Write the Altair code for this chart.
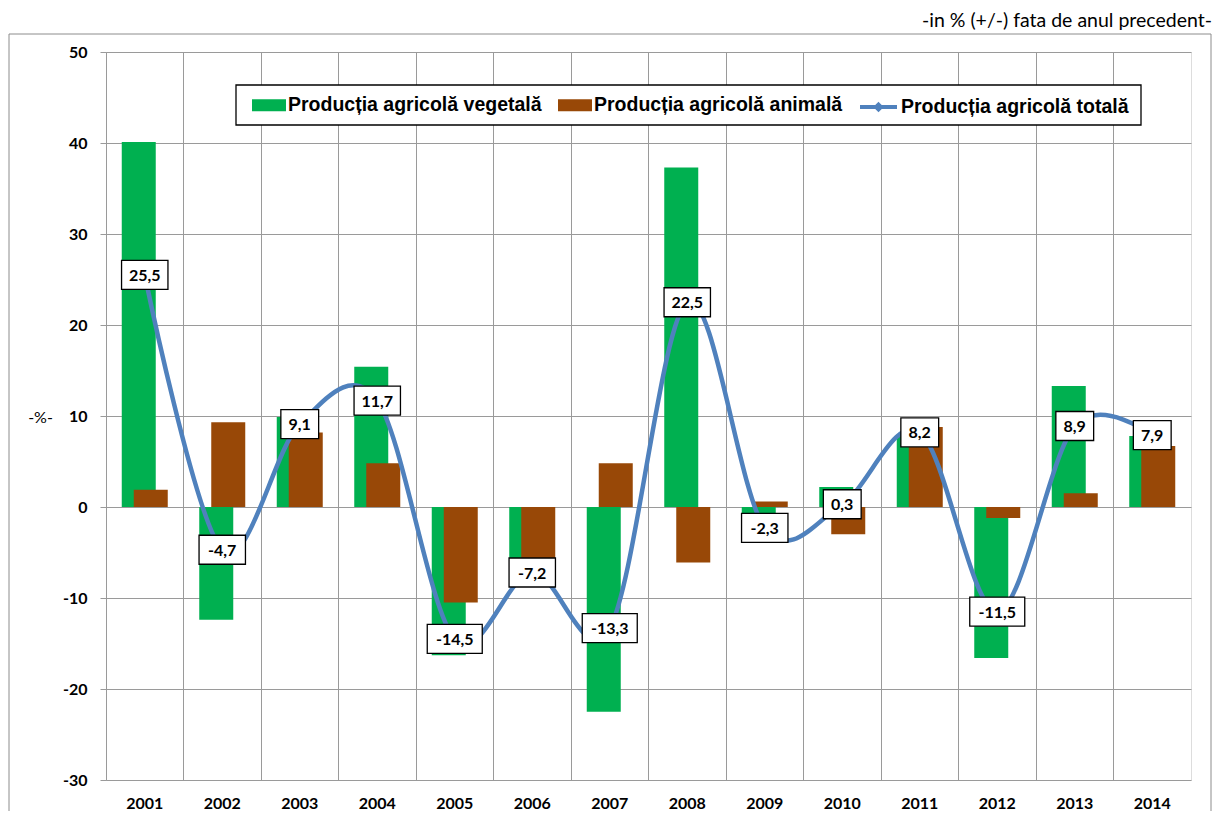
import altair as alt
import pandas as pd

years = ["2001", "2002", "2003", "2004", "2005", "2006", "2007",
         "2008", "2009", "2010", "2011", "2012", "2013", "2014"]
vegetala = [40.1, -12.4, 9.9, 15.4, -16.3, -6.0, -22.5,
            37.3, -3.5, 2.2, 8.0, -16.6, 13.3, 7.8]
animala = [1.9, 9.3, 8.2, 4.8, -10.5, -8.0, 4.8,
           -6.1, 0.6, -3.0, 8.8, -1.2, 1.5, 6.7]
totala = [25.5, -4.7, 9.1, 11.7, -14.5, -7.2, -13.3,
          22.5, -2.3, 0.3, 8.2, -11.5, 8.9, 7.9]

S_VEG = "Producția agricolă vegetală"
S_ANI = "Producția agricolă animală"
S_TOT = "Producția agricolă totală"
subtitle = "-in % (+/-) fata de anul precedent-"
y_ticks = [-30, -20, -10, 0, 10, 20, 30, 40, 50]

GREEN = "#00B050"
BROWN = "#984807"
BLUE = "#4F81BD"
GRID = "#9A9A9A"
TICKFONT = "Lato"

veg_df = pd.DataFrame({"an": years, "val": vegetala, "serie": S_VEG})
ani_df = pd.DataFrame({"an": years, "val": animala, "serie": S_ANI})
labels = [f"{v:.1f}".replace(".", ",") for v in totala]
box_w = [12 + 8.6 * len(s) for s in labels]
box_h = 29
tot_df = pd.DataFrame({
    "an": years, "val": totala, "serie": S_TOT, "label": labels,
    "shape": [f"M-1,-{box_h / w:.4f}H1V{box_h / w:.4f}H-1Z" for w in box_w],
    "size": [w * w for w in box_w],
})
title_df = pd.DataFrame({"t": [subtitle]})

x_enc = alt.X("an:N", sort=years,
              scale=alt.Scale(paddingInner=0, paddingOuter=0),
              axis=alt.Axis(title=None, labelAngle=0, ticks=False, domain=False,
                            grid=True, gridColor=GRID, bandPosition=0,
                            labelFont=TICKFONT, labelFontWeight="bold",
                            labelFontSize=16, labelColor="black", labelPadding=15))
y_scale = alt.Scale(domain=[-30, 50], nice=False, zero=False)
y_enc = alt.Y("val:Q", scale=y_scale,
              axis=alt.Axis(values=y_ticks, title="-%-", titleAngle=0,
                            labelExpr="'' + datum.value",
                            titleAlign="center", titleBaseline="middle",
                            titleX=-66, titleY=365, titleFont=TICKFONT,
                            titleFontSize=16, titleFontWeight="normal",
                            titleColor="black",
                            grid=True, gridColor=GRID, domainColor=GRID,
                            tickColor=GRID, tickSize=6, labelPadding=13,
                            labelFont=TICKFONT, labelFontWeight="bold",
                            labelFontSize=16, labelColor="black"))

LEGFONT = "Liberation Sans"
LEGSIZE = 19.5
fill_scale = alt.Scale(domain=[S_VEG, S_ANI], range=[GREEN, BROWN])
fill_legend = alt.Legend(title=None, orient="none", legendX=146, legendY=36,
                         direction="horizontal",
                         symbolType="M-1,-0.36H1V0.36H-1Z", symbolSize=34 * 34,
                         symbolStrokeWidth=0, labelOffset=2, columnPadding=16,
                         labelFont=LEGFONT, labelFontWeight="bold",
                         labelFontSize=LEGSIZE, labelColor="black", labelLimit=400)

bars_veg = alt.Chart(veg_df).mark_bar(width=34, xOffset=-6).encode(
    x=x_enc, y=y_enc,
    fill=alt.Fill("serie:N", scale=fill_scale, legend=fill_legend))
bars_ani = alt.Chart(ani_df).mark_bar(width=34, xOffset=6).encode(
    x=x_enc, y=y_enc,
    fill=alt.Fill("serie:N", scale=fill_scale, legend=fill_legend))

stroke_legend = alt.Legend(title=None, orient="none", legendX=752, legendY=34.5,
                           symbolType="M-1,0H1M0,-0.13L0.13,0L0,0.13L-0.13,0Z",
                           symbolSize=37 * 37, symbolStrokeWidth=4,
                           labelOffset=2,
                           labelFont=LEGFONT, labelFontWeight="bold",
                           labelFontSize=LEGSIZE, labelColor="black", labelLimit=400)
line = alt.Chart(tot_df).mark_line(interpolate="cardinal", strokeWidth=4.5).encode(
    x=x_enc, y=y_enc,
    stroke=alt.Stroke("serie:N", scale=alt.Scale(domain=[S_TOT], range=[BLUE]),
                      legend=stroke_legend))

boxes = alt.Chart(tot_df).mark_point(filled=False, fill="white", fillOpacity=1,
                                     stroke="black", strokeWidth=1.3,
                                     opacity=1).encode(
    x=x_enc, y=y_enc,
    shape=alt.Shape("shape:N", scale=None, legend=None),
    size=alt.Size("size:Q", scale=None, legend=None))

texts = alt.Chart(tot_df).mark_text(font=TICKFONT, fontWeight="bold", fontSize=16,
                                    color="black", baseline="middle",
                                    align="center", dy=1).encode(
    x=x_enc, y=y_enc, text="label:N")

legend_box = alt.Chart(title_df).mark_rect(
    fill="white", stroke="black", strokeWidth=1.3).encode(
    x=alt.value(130), x2=alt.value(1035), y=alt.value(33), y2=alt.value(73))

outer_box = alt.Chart(title_df).mark_rect(
    fill=None, stroke="#8C8C8C", strokeWidth=1).encode(
    x=alt.value(-97), x2=alt.value(1105), y=alt.value(-18), y2=alt.value(820))

title_text = alt.Chart(title_df).mark_text(
    font="Lato", fontSize=19.5, color="black", align="right",
    baseline="middle").encode(
    x=alt.value(1106), y=alt.value(-31), text="t:N")

chart = alt.layer(
    outer_box, bars_veg, bars_ani, line, boxes, texts, legend_box, title_text
).resolve_scale(fill="shared").properties(
    width=1085, height=728,
    autosize=alt.AutoSizeParams(type="none"),
    padding={"left": 98, "top": 44, "right": 22, "bottom": 31},
).configure_view(stroke=GRID, strokeWidth=1).configure(background="white")

chart.save("out.html", embed_options={"renderer": "svg", "actions": False})
